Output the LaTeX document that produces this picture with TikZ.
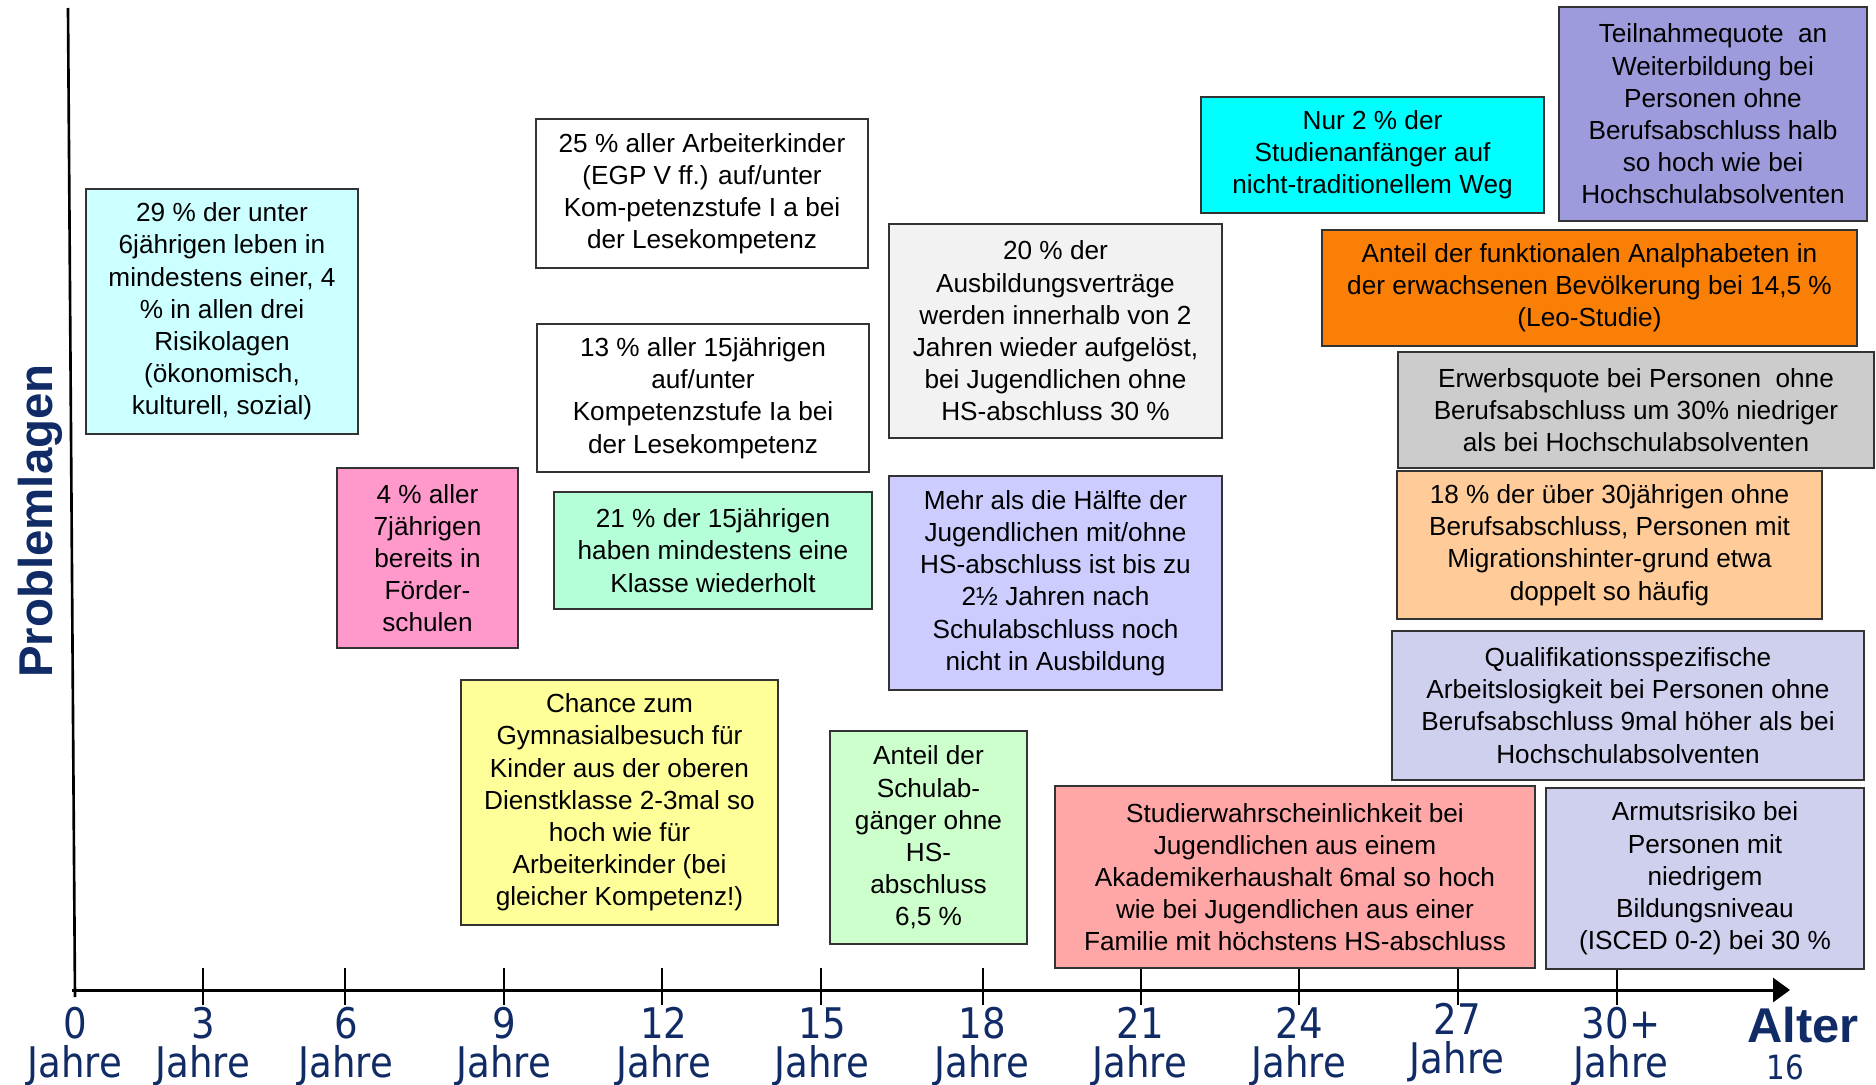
\documentclass[tikz,border=0pt]{standalone}
\usepackage{fontspec}
\setmainfont{Liberation Sans}
\newfontfamily\axisfont[FakeStretch=0.88]{DejaVu Sans}
\usepackage{tikz}
\usetikzlibrary{arrows.meta}

\definecolor{navy}{RGB}{16,43,102}
\definecolor{lcyan}{RGB}{204,255,255}
\definecolor{pink}{RGB}{255,153,204}
\definecolor{mint}{RGB}{180,255,216}
\definecolor{lyellow}{RGB}{255,255,153}
\definecolor{lgreen}{RGB}{204,255,204}
\definecolor{lgray}{RGB}{242,242,242}
\definecolor{lilac}{RGB}{204,204,255}
\definecolor{rose}{RGB}{255,166,166}
\definecolor{cyan}{RGB}{0,255,255}
\definecolor{violet}{RGB}{157,155,220}
\definecolor{orange}{RGB}{249,127,7}
\definecolor{mgray}{RGB}{204,204,204}
\definecolor{peach}{RGB}{255,204,153}
\definecolor{plilac}{RGB}{207,207,238}

\begin{document}
\begin{tikzpicture}[x=0.02cm,y=-0.02cm,
	fact/.style={draw=black!80,line width=0.8pt,align=center,inner sep=0pt,
		font=\fontsize{14.9pt}{18.3pt}\selectfont},
	year/.style={text=navy,font=\axisfont\fontsize{24pt}{24pt}\selectfont}]
	\useasboundingbox (0,0) rectangle (1876,1085);
	% axes
	\coordinate (O) at (72,990);
	\coordinate (xend) at (1790,990);
	\coordinate (ytop) at (68,8);
	\coordinate (ybot) at (75,997);
	\draw[line width=1.5pt] (ybot) -- (ytop);
	\draw[line width=1.7pt,-{Triangle[length=0.34cm,width=0.48cm]}] (O) -- (xend);
	\foreach \x in {203,345,504,662,821,983,1141,1299,1458,1617}
		\draw[line width=0.8pt] (\x,968) -- (\x,1005);
	\foreach \x/\lab/\dy [count=\i] in {75/0/0,203/3/0,346/6/0,504/9/0,664/12/0,822/15/0,982/18/0,1140/21/0,1299/24/0,1457/27/-4,1621/30+/0} {
		\node[year] (n\i) at (\x,1023+\dy) {\lab};
		\node[year] (j\i) at (\x,1066+\dy) {Jahre};
	}
	\node[text=navy,font=\bfseries\fontsize{27.8pt}{28pt}\selectfont] (alter) at (1803,1025) {Alter};
	\node[text=navy,font=\axisfont\fontsize{19pt}{19pt}\selectfont] (page) at (1785,1067) {16};
	\node[text=navy,rotate=90,font=\bfseries\fontsize{27pt}{27pt}\selectfont] (ylab) at (40,521) {Problemlagen};

	% Kindheit und Schule
	\node[fact,fill=lcyan,minimum width=5.44cm,minimum height=4.9cm] (risk) at (222,311.5)
		{29 \% der unter\\6jährigen leben in\\mindestens einer, 4\\\% in allen drei\\Risikolagen\\(ökonomisch,\\kulturell, sozial)};
	\node[fact,fill=pink,minimum width=3.62cm,minimum height=3.6cm] (foerder) at (427.5,558)
		{4 \% aller\\7jährigen\\bereits in\\Förder-\\schulen};
	\node[fact,fill=white,minimum width=6.64cm,minimum height=2.98cm] (egp) at (702,193.5)
		{25 \% aller Arbeiterkinder\\(EGP V ff.) auf/unter\\Kom-petenzstufe I a bei\\der Lesekompetenz};
	\node[fact,fill=white,minimum width=6.64cm,minimum height=2.96cm] (lese) at (703,398)
		{13 \% aller 15jährigen\\auf/unter\\Kompetenzstufe Ia bei\\der Lesekompetenz};
	\node[fact,fill=mint,minimum width=6.36cm,minimum height=2.34cm] (klasse) at (713,550.5)
		{21 \% der 15jährigen\\haben mindestens eine\\Klasse wiederholt};
	\node[fact,fill=lyellow,minimum width=6.34cm,minimum height=4.9cm] (gym) at (619.5,802.5)
		{Chance zum\\Gymnasialbesuch für\\Kinder aus der oberen\\Dienstklasse 2-3mal so\\hoch wie für\\Arbeiterkinder (bei\\gleicher Kompetenz!)};
	\node[fact,fill=lgreen,minimum width=3.94cm,minimum height=4.26cm] (ohnehs) at (928.5,837.5)
		{Anteil der\\Schulab-\\gänger ohne\\HS-\\abschluss\\6,5 \%};

	% Ausbildung und Studium
	\node[fact,fill=lgray,minimum width=6.66cm,minimum height=4.28cm] (vertrag) at (1055.5,331)
		{20 \% der\\Ausbildungsverträge\\werden innerhalb von 2\\Jahren wieder aufgelöst,\\bei Jugendlichen ohne\\HS-abschluss 30 \%};
	\node[fact,fill=lilac,minimum width=6.66cm,minimum height=4.28cm] (haelfte) at (1055.5,583)
		{Mehr als die Hälfte der\\Jugendlichen mit/ohne\\HS-abschluss ist bis zu\\2½ Jahren nach\\Schulabschluss noch\\nicht in Ausbildung};
	\node[fact,fill=rose,minimum width=9.6cm,minimum height=3.64cm] (studier) at (1295,877)
		{Studierwahrscheinlichkeit bei\\Jugendlichen aus einem\\Akademikerhaushalt 6mal so hoch\\wie bei Jugendlichen aus einer\\Familie mit höchstens HS-abschluss};
	\node[fact,fill=cyan,minimum width=6.86cm,minimum height=2.32cm] (anfaenger) at (1372.5,155)
		{Nur 2 \% der\\Studienanfänger auf\\nicht-traditionellem Weg};

	% Erwachsene
	\node[fact,fill=violet,minimum width=6.16cm,minimum height=4.28cm] (weiter) at (1713,114)
		{Teilnahmequote\ \ an\\Weiterbildung bei\\Personen ohne\\Berufsabschluss halb\\so hoch wie bei\\Hochschulabsolventen};
	\node[fact,fill=orange,minimum width=10.7cm,minimum height=2.32cm] (leo) at (1589.5,288)
		{Anteil der funktionalen Analphabeten in\\der erwachsenen Bevölkerung bei 14,5 \%\\(Leo-Studie)};
	\node[fact,fill=mgray,minimum width=9.52cm,minimum height=2.32cm] (erwerb) at (1636,410)
		{Erwerbsquote bei Personen\ \ ohne\\Berufsabschluss um 30\% niedriger\\als bei Hochschulabsolventen};
	\node[fact,fill=peach,minimum width=8.5cm,minimum height=2.96cm] (migr) at (1609.5,545)
		{18 \% der über 30jährigen ohne\\Berufsabschluss, Personen mit\\Migrationshinter-grund etwa\\doppelt so häufig};
	\node[fact,fill=plilac,minimum width=9.44cm,minimum height=2.98cm] (arbeitslos) at (1628,705.5)
		{Qualifikationsspezifische\\Arbeitslosigkeit bei Personen ohne\\Berufsabschluss 9mal höher als bei\\Hochschulabsolventen};
	\node[fact,fill=plilac,minimum width=6.36cm,minimum height=3.62cm] (armut) at (1705,878.5)
		{Armutsrisiko bei\\Personen mit\\niedrigem\\Bildungsniveau\\(ISCED 0-2) bei 30 \%};
\end{tikzpicture}
\end{document}
